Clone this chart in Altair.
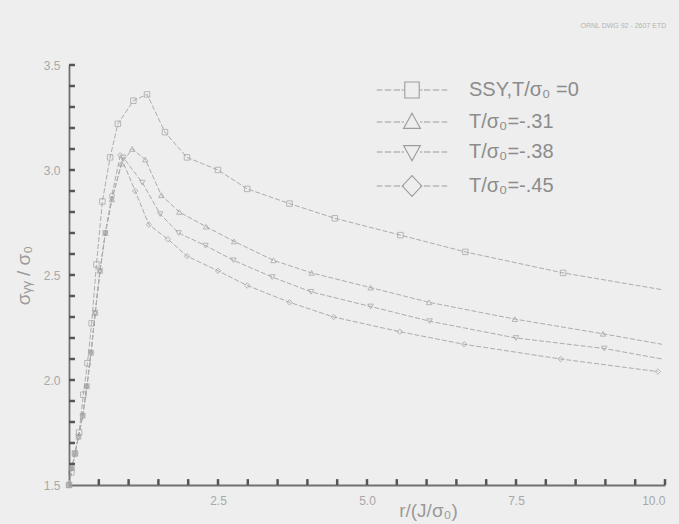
import altair as alt
import pandas as pd

names = ["SSY,T/σ₀ =0", "T/σ₀=-.31", "T/σ₀=-.38", "T/σ₀=-.45"]

x_t00 = [0.00, 0.04, 0.10, 0.17, 0.24, 0.31, 0.38, 0.46, 0.56, 0.69, 0.82, 1.08, 1.31, 1.61, 1.98,
         2.50, 2.99, 3.70, 4.46, 5.56, 6.65, 8.29, 9.95]
y_t00 = [1.50, 1.56, 1.65, 1.75, 1.93, 2.08, 2.27, 2.55, 2.85, 3.06, 3.22, 3.33, 3.36, 3.18, 3.06,
         3.00, 2.91, 2.84, 2.77, 2.69, 2.61, 2.51, 2.43]

x_t31 = [0.00, 0.05, 0.10, 0.16, 0.23, 0.30, 0.37, 0.44, 0.52, 0.61, 0.72, 0.88, 1.06, 1.28, 1.55,
         1.85, 2.30, 2.77, 3.43, 4.07, 5.06, 6.04, 7.48, 8.96, 9.95]
y_t31 = [1.50, 1.58, 1.65, 1.73, 1.83, 1.97, 2.13, 2.32, 2.52, 2.70, 2.86, 3.03, 3.10, 3.05, 2.88,
         2.80, 2.73, 2.66, 2.57, 2.51, 2.44, 2.37, 2.29, 2.22, 2.17]

x_t38 = [0.00, 0.05, 0.10, 0.16, 0.23, 0.30, 0.37, 0.44, 0.52, 0.61, 0.72, 0.91, 1.23, 1.53, 1.84,
         2.29, 2.76, 3.41, 4.06, 5.06, 6.05, 7.50, 8.98, 9.95]
y_t38 = [1.50, 1.58, 1.65, 1.73, 1.83, 1.97, 2.13, 2.32, 2.52, 2.70, 2.86, 3.06, 2.94, 2.79, 2.70,
         2.64, 2.57, 2.49, 2.42, 2.35, 2.28, 2.20, 2.15, 2.10]

x_t45 = [0.00, 0.05, 0.10, 0.16, 0.23, 0.30, 0.37, 0.44, 0.52, 0.61, 0.72, 0.86, 1.11, 1.34, 1.66,
         1.98, 2.50, 2.99, 3.70, 4.44, 5.55, 6.63, 8.25, 9.88]
y_t45 = [1.50, 1.58, 1.65, 1.73, 1.83, 1.97, 2.13, 2.32, 2.52, 2.70, 2.88, 3.07, 2.90, 2.74, 2.67,
         2.59, 2.52, 2.45, 2.37, 2.30, 2.23, 2.17, 2.10, 2.04]

last_marked = [False, False, False, True]

x_label_values = [2.5, 5.0, 7.5, 10.0]
y_label_values = [1.5, 2.0, 2.5, 3.0, 3.5]
x_minor_ticks = [0.5 * i for i in range(1, 21)]
y_minor_ticks = [round(1.5 + 0.1 * i, 2) for i in range(1, 21)]

rows = []
for name, xs, ys, lm in zip(names, [x_t00, x_t31, x_t38, x_t45], [y_t00, y_t31, y_t38, y_t45], last_marked):
    for i, (a, b) in enumerate(zip(xs, ys)):
        rows.append({"series": name, "x": a, "y": b, "idx": i,
                     "marked": bool(i < len(xs) - 1 or lm)})
df = pd.DataFrame(rows)

FONT = "Liberation Sans"
xsc = alt.Scale(domain=[0, 10], nice=False, zero=False)
ysc = alt.Scale(domain=[1.5, 3.5], nice=False, zero=False)

base = alt.Chart(df)

lines = base.mark_line(color="#acacac", strokeWidth=1, strokeDash=[5, 2]).encode(
    x=alt.X("x:Q", scale=xsc, axis=alt.Axis(
        orient="bottom", values=x_label_values, format=".1f", ticks=False, grid=False,
        domainColor="#707070", domainWidth=1.8, labelColor="#a8a8a8", labelFontSize=12,
        labelFont=FONT, labelPadding=10, title="r/(J/σ₀)", titleFont=FONT, titleFontSize=19,
        titleFontWeight="normal", titleColor="#9a9a9a", titleX=359, titleY=31,
        titleBaseline="alphabetic")),
    y=alt.Y("y:Q", scale=ysc, axis=alt.Axis(
        orient="left", values=y_label_values, format=".1f", ticks=False, grid=False,
        domainColor="#707070", domainWidth=1.8, labelColor="#a8a8a8", labelFontSize=12,
        labelFont=FONT, labelPadding=9, title="σᵧᵧ / σ₀", titleFont=FONT, titleFontSize=19,
        titleFontWeight="normal", titleColor="#9a9a9a", titleX=-36, titleY=210)),
    detail="series:N",
    order="idx:Q",
)

pts = base.transform_filter("datum.marked").mark_point(
    filled=False, color="#a0a0a0", size=30, strokeWidth=1).encode(
    x=alt.X("x:Q"),
    y=alt.Y("y:Q"),
    shape=alt.Shape("series:N", scale=alt.Scale(
        domain=names, range=["square", "triangle-up", "triangle-down", "diamond"]), legend=None),
)

# inward axis ticks, built from the tick value lists
xticks = alt.Chart(pd.DataFrame({"tv": x_minor_ticks})).transform_calculate(
    ya="1.5", yb="1.528").mark_rule(color="#555555", strokeWidth=2.5).encode(
    x=alt.X("tv:Q"), y=alt.Y("ya:Q"), y2=alt.Y2("yb:Q"))
yticks = alt.Chart(pd.DataFrame({"tv": y_minor_ticks})).transform_calculate(
    xa="0", xb="0.1").mark_rule(color="#555555", strokeWidth=2.5).encode(
    y=alt.Y("tv:Q"), x=alt.X("xa:Q"), x2=alt.X2("xb:Q"))

dash_l = "M-4.4,0H-3.7M-3.4,0H-2.6M-2.3,0H-1.5M-1.3,0H-1.0"
dash_r = "M1.0,0H1.3M1.5,0H2.3M2.6,0H3.4M3.7,0H4.4"
legend_paths = [
    dash_l + dash_r + "M-0.9,-1H0.9V1H-0.9Z",
    dash_l + dash_r + "M0,-1.1L1.05,0.8H-1.05Z",
    dash_l + dash_r + "M0,1.1L1.05,-0.8H-1.05Z",
    dash_l + dash_r + "M0,-1.3L1.2,0L0,1.3L-1.2,0Z",
]

leg = base.transform_filter("false").mark_point(
    filled=False, color="#9c9c9c", size=256, strokeWidth=1.1).encode(
    x=alt.X("x:Q"),
    y=alt.Y("y:Q"),
    shape=alt.Shape("series:N", scale=alt.Scale(domain=names, range=legend_paths),
                    legend=alt.Legend(
                        title=None, orient="none", legendX=333, legendY=15,
                        labelFont=FONT, labelFontSize=20, labelColor="#8c8c8c",
                        labelOffset=47, rowPadding=10, symbolSize=256,
                        symbolStrokeColor="#9c9c9c", symbolStrokeWidth=1.1,
                        symbolFillColor="transparent", symbolOpacity=1)),
)

chart = alt.layer(lines, xticks, yticks, pts, leg).resolve_scale(
    shape="independent").properties(
    width=596, height=420, autosize="none",
    padding={"left": 69, "top": 65, "right": 14, "bottom": 39},
    title=alt.TitleParams("ORNL DWG 92 - 2607 ETD", anchor="end", fontSize=7,
                          color="#b4b4b4", font=FONT, fontWeight="normal", offset=30),
).configure(background="#eeeeee").configure_view(stroke=None)

chart.save("out.html", embed_options={"renderer": "svg", "actions": False})
